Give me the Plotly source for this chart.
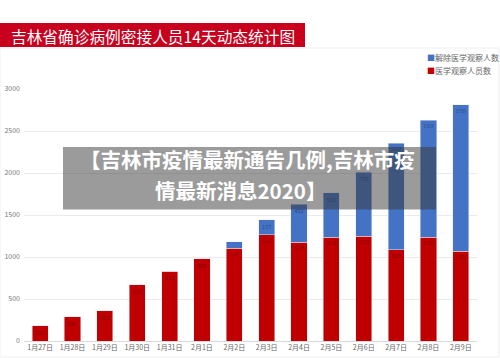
import plotly.graph_objects as go

categories = ["1月27日", "1月28日", "1月29日", "1月30日", "1月31日", "2月1日", "2月2日",
              "2月3日", "2月4日", "2月5日", "2月6日", "2月7日", "2月8日", "2月9日"]
observing = [183, 286, 362, 671, 833, 981, 1107, 1267, 1175, 1235, 1250, 1088, 1235, 1071]
released = [0, 0, 0, 0, 0, 0, 76, 177, 451, 532, 758, 1269, 1392, 1739]
y_ticks = [0, 500, 1000, 1500, 2000, 2500, 3000]

RED = "#c00000"
BLUE = "#4472c4"
FONT = "Noto Sans CJK SC"

W, H = 500, 358
L, R, T, B = 24, 477, 89, 341


def px(x):
    return (x - L) / (R - L)


def py(y):
    return (B - y) / (B - T)


fig = go.Figure()
fig.add_trace(go.Bar(
    x=categories, y=observing, name="医学观察人员数", marker_color=RED,
    text=[str(v) for v in observing], textposition="inside", insidetextanchor="end",
    textangle=0,
    textfont=dict(size=5.5, color="#8a0000", family=FONT), showlegend=False,
))
fig.add_trace(go.Bar(
    x=categories, y=released, name="解除医学观察人数", marker_color=BLUE,
    text=[str(v) if v >= 150 else "" for v in released], textposition="inside",
    insidetextanchor="end", textangle=0,
    textfont=dict(size=5.5, color="#2b4a85", family=FONT), showlegend=False,
))

fig.update_layout(
    width=W, height=H,
    margin=dict(l=L, r=W - R, t=T, b=H - B, pad=0, autoexpand=False),
    barmode="stack", bargap=0.5,
    plot_bgcolor="white", paper_bgcolor="white",
    font=dict(family=FONT, color="#666666"),
    xaxis=dict(showgrid=False, showline=True, linecolor="#d9d9d9", ticks="", automargin=False,
               tickfont=dict(size=7, color="#666666")),
    yaxis=dict(range=[0, 3000], tickvals=y_ticks, showgrid=True, gridcolor="#ebebeb",
               zeroline=False, ticks="", automargin=False, tickfont=dict(size=7, color="#777777"),
               ticklabelstandoff=3),
    shapes=[
        # faint chart frame
        dict(type="rect", xref="paper", yref="paper", x0=px(0), x1=px(499), y0=py(357), y1=py(48),
             line=dict(color="#f0f0f0", width=1), fillcolor="rgba(0,0,0,0)", layer="below"),
        # title bar
        dict(type="rect", xref="paper", yref="paper", x0=px(0), x1=px(305), y0=py(47), y1=py(23),
             line=dict(width=0), fillcolor="#c8001e"),
        # overlay banner
        dict(type="rect", xref="paper", yref="paper", x0=px(63), x1=px(436), y0=py(209.5), y1=py(147),
             line=dict(width=0), fillcolor="rgba(55,55,55,0.5)", layer="above"),
    ],
    annotations=[
        dict(text="吉林省确诊病例密接人员14天动态统计图", xref="paper", yref="paper",
             x=px(9), y=py(36), xanchor="left", yanchor="middle", showarrow=False,
             font=dict(size=15.7, color="white", family=FONT)),
        dict(text="<span style='color:%s'>■</span>解除医学观察人数" % BLUE, xref="paper", yref="paper",
             x=px(425), y=py(57), xanchor="left", yanchor="middle", showarrow=False,
             font=dict(size=8, color="#666666", family=FONT)),
        dict(text="<span style='color:%s'>■</span>医学观察人员数" % RED, xref="paper", yref="paper",
             x=px(425), y=py(70), xanchor="left", yanchor="middle", showarrow=False,
             font=dict(size=8, color="#666666", family=FONT)),
        dict(text="<b>【吉林市疫情最新通告几例,吉林市疫</b>", xref="paper", yref="paper",
             x=px(247.5), y=py(159), xanchor="center", yanchor="middle", showarrow=False,
             font=dict(size=20.5, color="white", family=FONT)),
        dict(text="<b>情最新消息2020】</b>", xref="paper", yref="paper",
             x=px(240), y=py(190), xanchor="center", yanchor="middle", showarrow=False,
             font=dict(size=20.5, color="white", family=FONT)),
    ],
)

fig.write_html("out.html", config={"displayModeBar": False},
               post_script="document.body.style.margin='0';")
